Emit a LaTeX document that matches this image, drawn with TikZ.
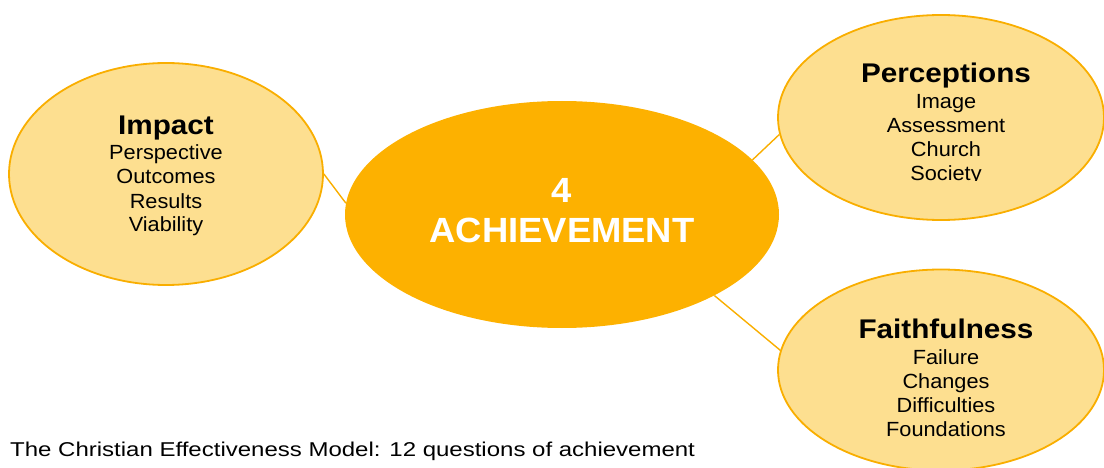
\documentclass[tikz,border=0pt]{standalone}
\usepackage{fontspec}
\setmainfont{Liberation Sans}
\newfontfamily\capfnt[FakeStretch=1.2]{Liberation Sans}
\newfontfamily\headfnt[FakeStretch=1.1]{Liberation Sans}
\newfontfamily\itemfnt[FakeStretch=1.06]{Liberation Sans}
\newfontfamily\bigfnt[FakeStretch=1.04]{Liberation Sans}
\usetikzlibrary{shapes.geometric}
\definecolor{mainfill}{HTML}{FDB100}
\definecolor{lightfill}{HTML}{FDDF90}
\definecolor{rim}{HTML}{F9AE00}
\tikzset{
  mainell/.style={ellipse, fill=mainfill, draw=none, inner sep=0pt},
  subell/.style={ellipse, fill=lightfill, draw=rim, line width=1.8pt, inner sep=0pt},
  link/.style={draw=rim, line width=1.4pt},
  head/.style={anchor=base, font=\headfnt\fontsize{27}{30}\selectfont\bfseries, inner sep=0pt},
  item/.style={anchor=base, font=\itemfnt\fontsize{20.5}{24}\selectfont, inner sep=0pt},
  big/.style={anchor=base, font=\bigfnt\fontsize{35}{40}\selectfont\bfseries, text=white, inner sep=0pt},
  captext/.style={anchor=base west, font=\capfnt\fontsize{20}{24}\selectfont, inner sep=0pt}
}
\begin{document}
\begin{tikzpicture}[x=1pt, y=-1pt]
\useasboundingbox (0,0) rectangle (1104,468);
% ellipses
\node[mainell, minimum width=434pt, minimum height=227pt] (main) at (562,214.5) {};
\node[subell, minimum width=314pt, minimum height=222pt] (impact) at (166,174) {};
\node[subell, minimum width=326pt, minimum height=205pt] (perc) at (941,117.5) {};
\node[subell, minimum width=326pt, minimum height=201pt] (faith) at (941,370) {};
% connectors
\draw[link] (impact.0) -- (main.177.5);
\draw[link] (perc.186.5) -- (main.16.3);
\draw[link] (faith.173.7) -- (main.-28.6);
% centre text
\node[big] (n4) at (562,203) {4};
\node[big] (ach) at (562,243) {ACHIEVEMENT};
% impact
\node[head] (h1) at (166,135) {Impact};
\node[item] (i11) at (166,160) {Perspective};
\node[item] (i12) at (166,184) {Outcomes};
\node[item] (i13) at (166,208) {Results};
\node[item] (i14) at (166,232) {Viability};
% perceptions
\node[head] (h2) at (946,83) {Perceptions};
\node[item] (i21) at (946,109) {Image};
\node[item] (i22) at (946,133) {Assessment};
\node[item] (i23) at (946,157) {Church};
\begin{scope}
\clip (778,160) rectangle (1104,180.5);
\node[item] (i24) at (946,181) {Society};
\end{scope}
% faithfulness
\node[head] (h3) at (946,338) {Faithfulness};
\node[item] (i31) at (946,364) {Failure};
\node[item] (i32) at (946,388) {Changes};
\node[item] (i33) at (946,412) {Difficulties};
\node[item] (i34) at (946,436) {Foundations};
% caption
\node[captext] (caption) at (10,456) {The Christian Effectiveness Model: 12 questions of achievement};
\end{tikzpicture}
\end{document}
